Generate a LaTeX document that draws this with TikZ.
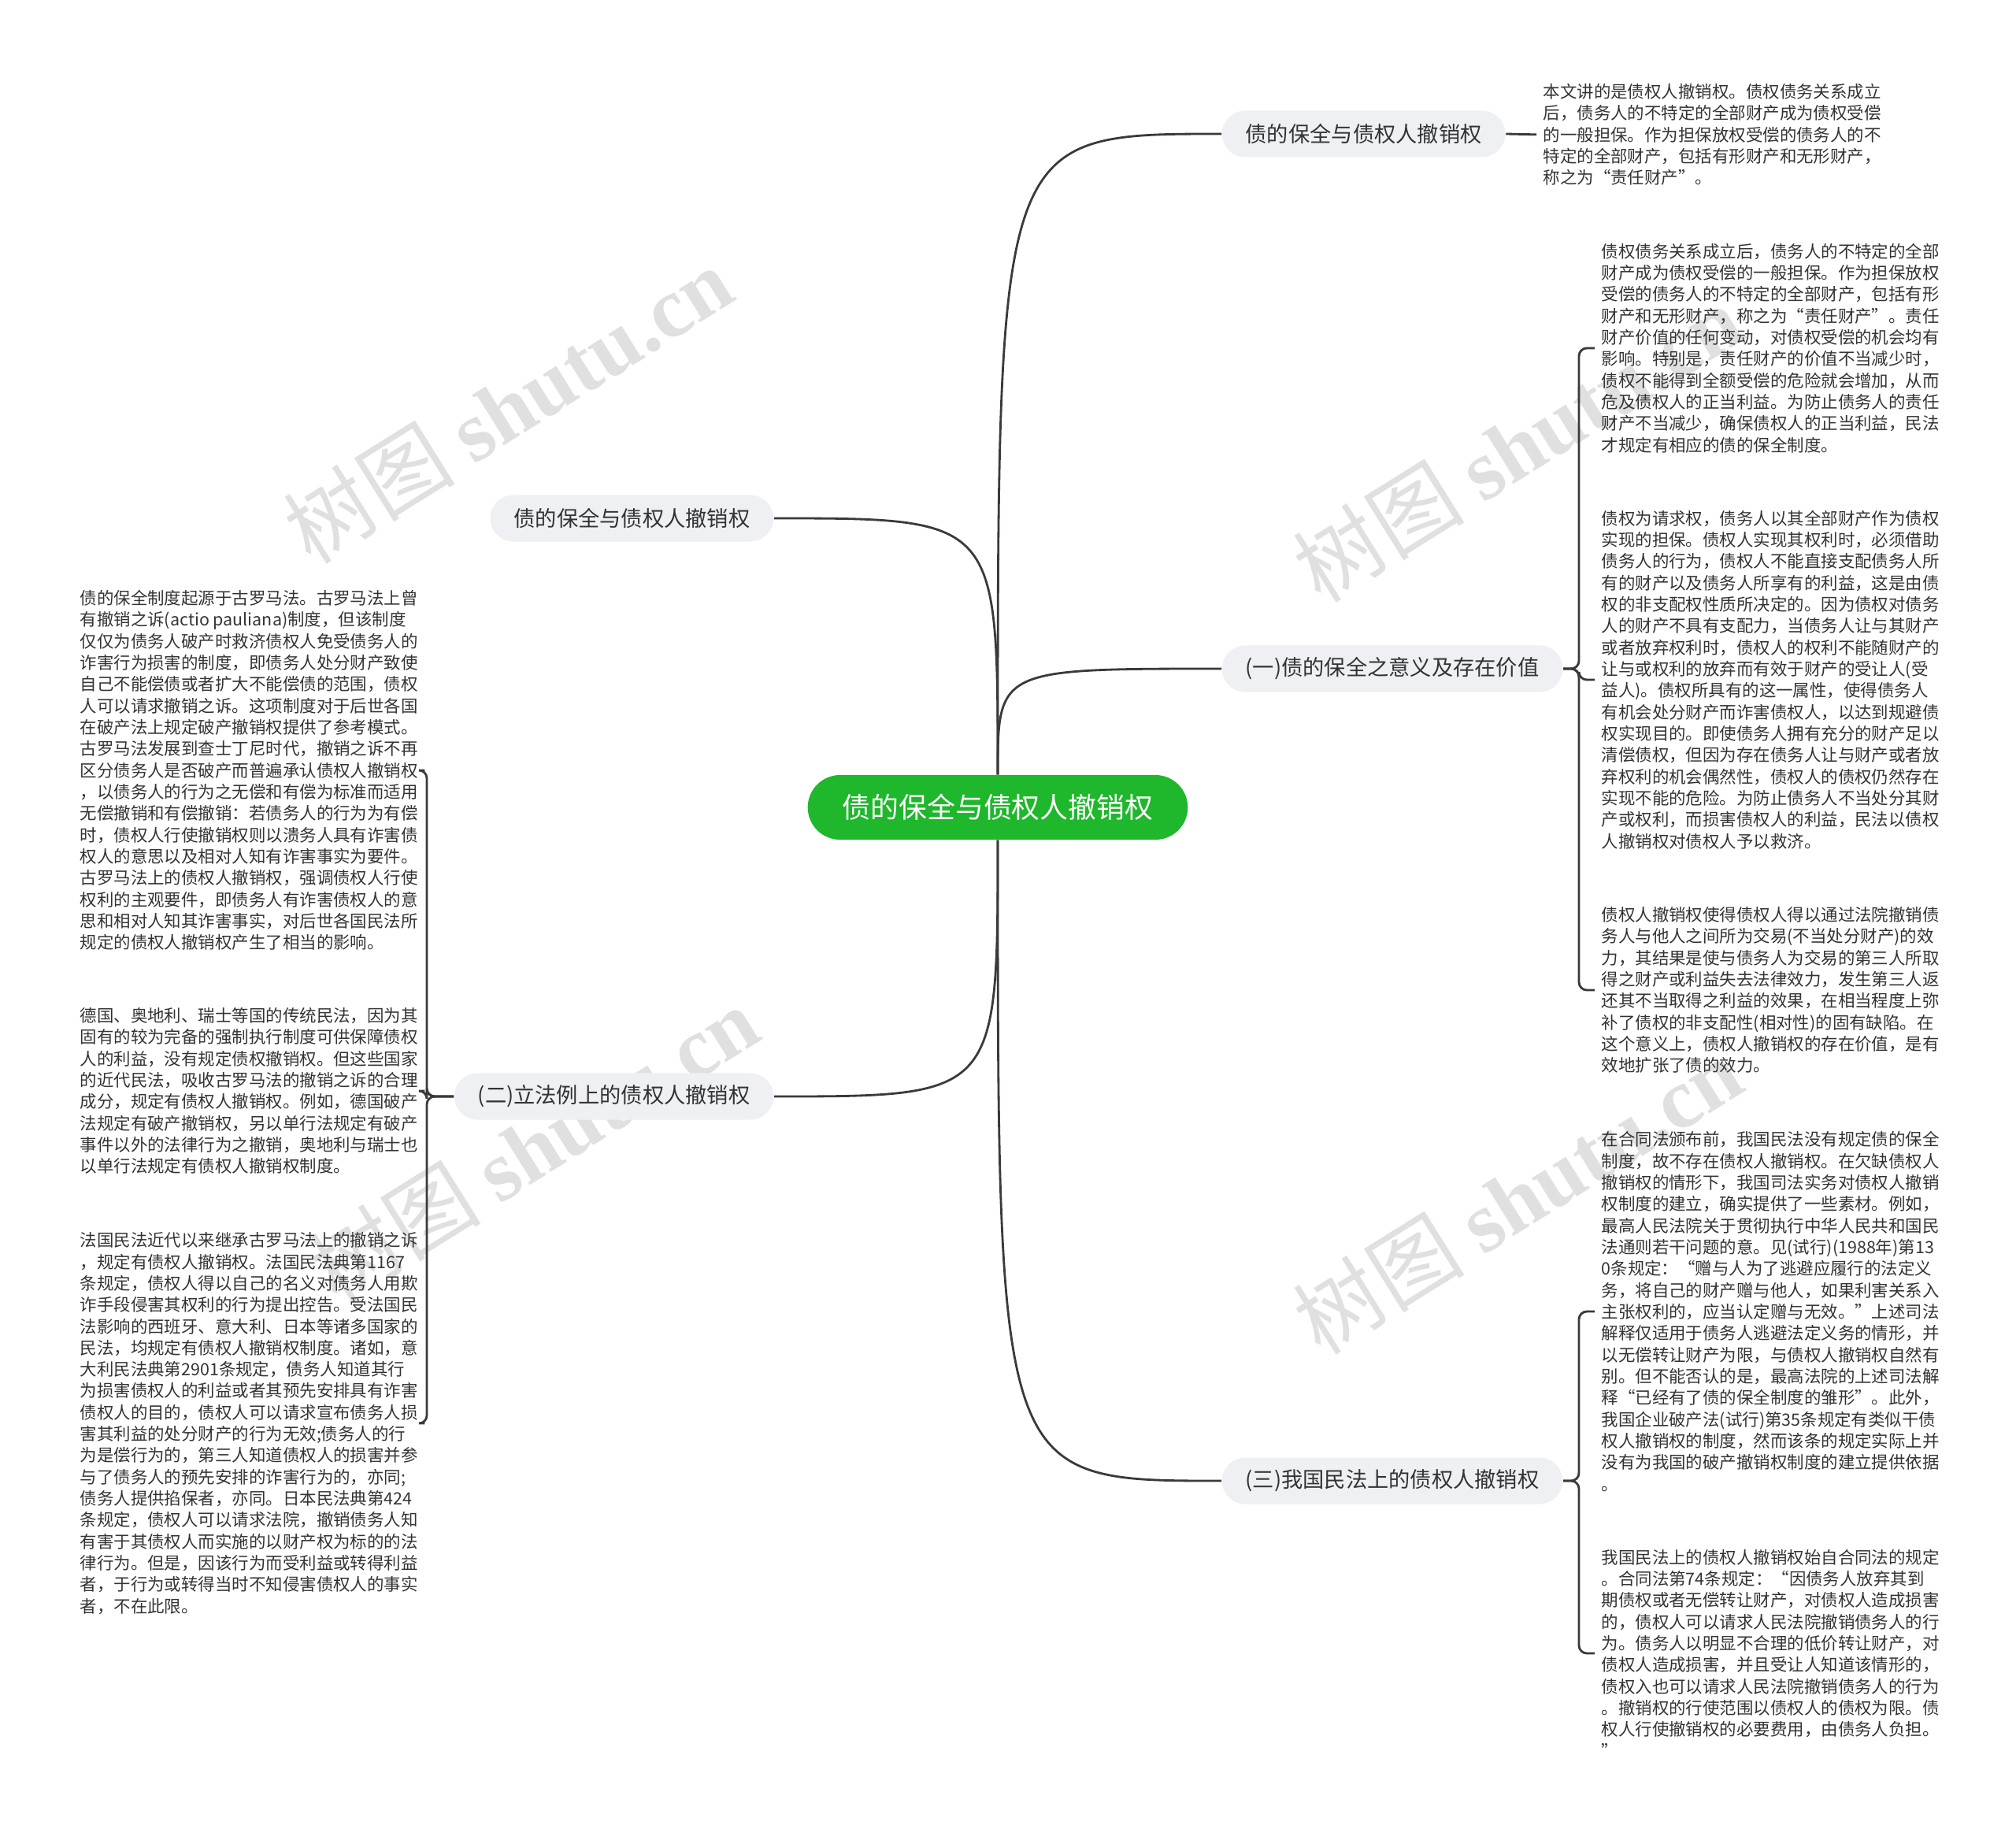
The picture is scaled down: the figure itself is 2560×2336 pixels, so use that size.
\documentclass[tikz,border=0pt]{standalone}
\usepackage{fontspec}
\setmainfont{Noto Sans CJK SC}
\newfontfamily\wmfont{Liberation Serif}
\definecolor{rootgreen}{HTML}{1FB72C}
\definecolor{branchgray}{HTML}{EEF0F3}
\definecolor{linkgray}{HTML}{3A3A3A}
\definecolor{textgray}{HTML}{333333}
\begin{document}
\begin{tikzpicture}[x=0.01cm,y=-0.01cm,
  every node/.style={text=textgray},
  rootnode/.style={fill=rootgreen,text=white,rounded corners=0.41cm,minimum height=0.82cm,inner xsep=0.44cm,font=\fontsize{10.2}{12}\selectfont},
  branch/.style={fill=branchgray,rounded corners=0.295cm,minimum height=0.59cm,inner xsep=0.3cm,font=\fontsize{7.75}{9}\selectfont},
  leaf/.style={align=left,inner sep=0pt,font=\fontsize{6.1}{7.77}\selectfont},
  link/.style={draw=linkgray,line width=0.8pt},
  bracket/.style={link,rounded corners=0.1cm,shorten >=0.08cm},
  watermark/.style={text=black!12,rotate=32,font=\fontsize{31}{31}\selectfont}]
\useasboundingbox (0,0) rectangle (2560,2336);
\foreach \x/\y in {645/514,1927/563,678/1453,1927/1518}
  \node[watermark] at (\x,\y) {树图 {\wmfont\bfseries shutu.cn}};
\node[rootnode] (root) at (1267,1025) {债的保全与债权人撤销权};
\node[branch,anchor=west] (b1) at (1551,170) {债的保全与债权人撤销权};
\node[branch,anchor=east] (b2) at (983,658) {债的保全与债权人撤销权};
\node[branch,anchor=west] (b3) at (1551,849) {(一)债的保全之意义及存在价值};
\node[branch,anchor=east] (b4) at (983,1392) {(二)立法例上的债权人撤销权};
\node[branch,anchor=west] (b5) at (1551,1880) {(三)我国民法上的债权人撤销权};
\coordinate (k3) at (2005,849);
\coordinate (k4) at (542,1392);
\coordinate (k5) at (2005,1880);
\foreach \b/\s/\e in {b1/north/west,b2/north/east,b3/north/west,b4/south/east,b5/south/west}
  \draw[link] (root.\s) .. controls (root.\s |- \b.\e) .. (\b.\e);
\node[leaf,anchor=west] (t1) at (1959,171) {本文讲的是债权人撤销权。债权债务关系成立\\
后，债务人的不特定的全部财产成为债权受偿\\
的一般担保。作为担保放权受偿的债务人的不\\
特定的全部财产，包括有形财产和无形财产，\\
称之为“责任财产”。};
\node[leaf,anchor=west] (t21) at (2033,442) {债权债务关系成立后，债务人的不特定的全部\\
财产成为债权受偿的一般担保。作为担保放权\\
受偿的债务人的不特定的全部财产，包括有形\\
财产和无形财产，称之为“责任财产”。责任\\
财产价值的任何变动，对债权受偿的机会均有\\
影响。特别是，责任财产的价值不当减少时，\\
债权不能得到全额受偿的危险就会增加，从而\\
危及债权人的正当利益。为防止债务人的责任\\
财产不当减少，确保债权人的正当利益，民法\\
才规定有相应的债的保全制度。};
\node[leaf,anchor=west] (t22) at (2033,863) {债权为请求权，债务人以其全部财产作为债权\\
实现的担保。债权人实现其权利时，必须借助\\
债务人的行为，债权人不能直接支配债务人所\\
有的财产以及债务人所享有的利益，这是由债\\
权的非支配权性质所决定的。因为债权对债务\\
人的财产不具有支配力，当债务人让与其财产\\
或者放弃权利时，债权人的权利不能随财产的\\
让与或权利的放弃而有效于财产的受让人(受\\
益人)。债权所具有的这一属性，使得债务人\\
有机会处分财产而诈害债权人，以达到规避债\\
权实现目的。即使债务人拥有充分的财产足以\\
清偿债权，但因为存在债务人让与财产或者放\\
弃权利的机会偶然性，债权人的债权仍然存在\\
实现不能的危险。为防止债务人不当处分其财\\
产或权利，而损害债权人的利益，民法以债权\\
人撤销权对债权人予以救济。};
\node[leaf,anchor=west] (t23) at (2033,1257) {债权人撤销权使得债权人得以通过法院撤销债\\
务人与他人之间所为交易(不当处分财产)的效\\
力，其结果是使与债务人为交易的第三人所取\\
得之财产或利益失去法律效力，发生第三人返\\
还其不当取得之利益的效果，在相当程度上弥\\
补了债权的非支配性(相对性)的固有缺陷。在\\
这个意义上，债权人撤销权的存在价值，是有\\
效地扩张了债的效力。};
\node[leaf,anchor=west] (t31) at (2033,1665) {在合同法颁布前，我国民法没有规定债的保全\\
制度，故不存在债权人撤销权。在欠缺债权人\\
撤销权的情形下，我国司法实务对债权人撤销\\
权制度的建立，确实提供了一些素材。例如，\\
最高人民法院关于贯彻执行中华人民共和国民\\
法通则若干问题的意。见(试行)(1988年)第13\\
0条规定：“赠与人为了逃避应履行的法定义\\
务，将自己的财产赠与他人，如果利害关系入\\
主张权利的，应当认定赠与无效。”上述司法\\
解释仅适用于债务人逃避法定义务的情形，并\\
以无偿转让财产为限，与债权人撤销权自然有\\
别。但不能否认的是，最高法院的上述司法解\\
释“已经有了债的保全制度的雏形”。此外，\\
我国企业破产法(试行)第35条规定有类似干债\\
权人撤销权的制度，然而该条的规定实际上并\\
没有为我国的破产撤销权制度的建立提供依据\\
。};
\node[leaf,anchor=west] (t32) at (2033,2099) {我国民法上的债权人撤销权始自合同法的规定\\
。合同法第74条规定：“因债务人放弃其到\\
期债权或者无偿转让财产，对债权人造成损害\\
的，债权人可以请求人民法院撤销债务人的行\\
为。债务人以明显不合理的低价转让财产，对\\
债权人造成损害，并且受让人知道该情形的，\\
债权入也可以请求人民法院撤销债务人的行为\\
。撤销权的行使范围以债权人的债权为限。债\\
权人行使撤销权的必要费用，由债务人负担。\\
”};
\node[leaf,anchor=west] (l1) at (101,978) {债的保全制度起源于古罗马法。古罗马法上曾\\
有撤销之诉(actio pauliana)制度，但该制度\\
仅仅为债务人破产时救济债权人免受债务人的\\
诈害行为损害的制度，即债务人处分财产致使\\
自己不能偿债或者扩大不能偿债的范围，债权\\
人可以请求撤销之诉。这项制度对于后世各国\\
在破产法上规定破产撤销权提供了参考模式。\\
古罗马法发展到查士丁尼时代，撤销之诉不再\\
区分债务人是否破产而普遍承认债权人撤销权\\
，以债务人的行为之无偿和有偿为标准而适用\\
无偿撤销和有偿撤销：若债务人的行为为有偿\\
时，债权人行使撤销权则以溃务人具有诈害债\\
权人的意思以及相对人知有诈害事实为要件。\\
古罗马法上的债权人撤销权，强调债权人行使\\
权利的主观要件，即债务人有诈害债权人的意\\
思和相对人知其诈害事实，对后世各国民法所\\
规定的债权人撤销权产生了相当的影响。};
\node[leaf,anchor=west] (l2) at (101,1385) {德国、奥地利、瑞士等国的传统民法，因为其\\
固有的较为完备的强制执行制度可供保障债权\\
人的利益，没有规定债权撤销权。但这些国家\\
的近代民法，吸收古罗马法的撤销之诉的合理\\
成分，规定有债权人撤销权。例如，德国破产\\
法规定有破产撤销权，另以单行法规定有破产\\
事件以外的法律行为之撤销，奥地利与瑞士也\\
以单行法规定有债权人撤销权制度。};
\node[leaf,anchor=west] (l3) at (101,1807) {法国民法近代以来继承古罗马法上的撤销之诉\\
，规定有债权人撤销权。法国民法典第1167\\
条规定，债权人得以自己的名义对债务人用欺\\
诈手段侵害其权利的行为提出控告。受法国民\\
法影响的西班牙、意大利、日本等诸多国家的\\
民法，均规定有债权人撤销权制度。诸如，意\\
大利民法典第2901条规定，债务人知道其行\\
为损害债权人的利益或者其预先安排具有诈害\\
债权人的目的，债权人可以请求宣布债务人损\\
害其利益的处分财产的行为无效;债务人的行\\
为是偿行为的，第三人知道债权人的损害并参\\
与了债务人的预先安排的诈害行为的，亦同;\\
债务人提供掐保者，亦同。日本民法典第424\\
条规定，债权人可以请求法院，撤销债务人知\\
有害于其债权人而实施的以财产权为标的的法\\
律行为。但是，因该行为而受利益或转得利益\\
者，于行为或转得当时不知侵害债权人的事实\\
者，不在此限。};
\draw[link,shorten >=0.08cm] (b1.east) -- (t1.west);
\foreach \t in {t21,t22,t23}
  \draw[bracket] (b3.east) -- (k3) |- (\t.west);
\foreach \t in {t31,t32}
  \draw[bracket] (b5.east) -- (k5) |- (\t.west);
\foreach \t in {l1,l2,l3}
  \draw[bracket] (b4.west) -- (k4) |- (\t.east);
\end{tikzpicture}
\end{document}
